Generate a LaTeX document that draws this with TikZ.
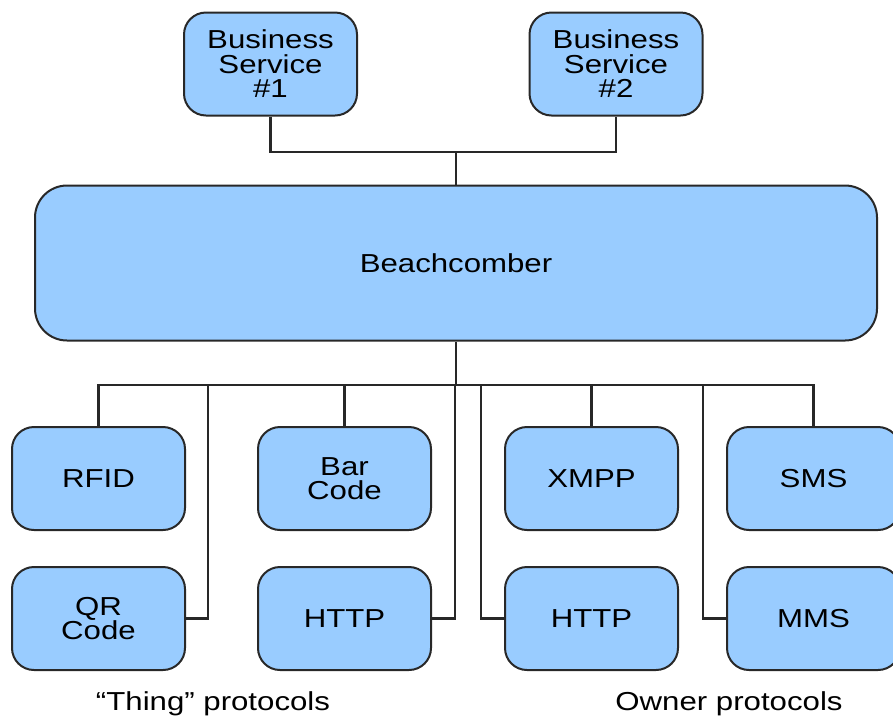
\documentclass[tikz,border=0pt]{standalone}
\usepackage{fontspec}
\setmainfont{Liberation Sans}[FakeStretch=1.2]
\definecolor{boxfill}{RGB}{153,204,255}
\definecolor{edge}{RGB}{40,40,40}
\tikzset{
  box/.style={draw=edge, fill=boxfill, line width=2pt, rounded corners=22pt,
    minimum width=173pt, minimum height=103pt, align=center, inner sep=0pt,
    font=\fontsize{26}{24.5}\selectfont},
  wire/.style={draw=edge, line width=2.4pt, line join=miter},
  caption/.style={font=\fontsize{26}{24.5}\selectfont, inner sep=0pt}
}
\begin{document}
\begin{tikzpicture}[x=1pt, y=-1pt]
  \useasboundingbox (0,0) rectangle (893,716);
  \clip (0,0) rectangle (893,716);

  % services on top
  \node[box] (bs1) at (270.5,64) {Business\\Service\\\#1};
  \node[box] (bs2) at (616,64) {Business\\Service\\\#2};

  % central engine
  \node[box, minimum width=842pt, minimum height=155pt, rounded corners=32pt]
    (bc) at (456,263) {Beachcomber};

  % protocol adapters
  \node[box] (rfid)  at (98.5,478.5)  {RFID};
  \node[box] (bar)   at (344.5,478.5) {Bar\\Code};
  \node[box] (xmpp)  at (591.5,478.5) {XMPP};
  \node[box] (sms)   at (813.5,478.5) {SMS};
  \node[box] (qr)    at (98.5,618.5)  {QR\\Code};
  \node[box] (http1) at (344.5,618.5) {HTTP};
  \node[box] (http2) at (591.5,618.5) {HTTP};
  \node[box] (mms)   at (813.5,618.5) {MMS};

  % group captions
  \node[caption] (thing) at (213,704) {“Thing” protocols};
  \node[caption] (owner) at (729,704) {Owner protocols};

  % junctions
  \coordinate (jt) at (456,152);
  \coordinate (jb) at (456,385);
  \coordinate (busL) at (97,385);
  \coordinate (busR) at (813,385);
  \coordinate (t1) at (208,385);
  \coordinate (t2) at (455,385);
  \coordinate (t3) at (481,385);
  \coordinate (t4) at (703,385);

  % upper connectors
  \draw[wire] (bs1.south) |- (jt) -| (bs2.south);
  \draw[wire] (jt) -- (bc.north);

  % lower bus
  \draw[wire] (bc.south) -- (jb);
  \draw[wire] (rfid.north) |- (busL) -- (busR) -| (sms.north);
  \draw[wire] (bar.north) -- (bar.north |- busL);
  \draw[wire] (xmpp.north) -- (xmpp.north |- busL);
  \draw[wire] (qr.east) -| (t1);
  \draw[wire] (http1.east) -| (t2);
  \draw[wire] (http2.west) -| (t3);
  \draw[wire] (mms.west) -| (t4);
\end{tikzpicture}
\end{document}
